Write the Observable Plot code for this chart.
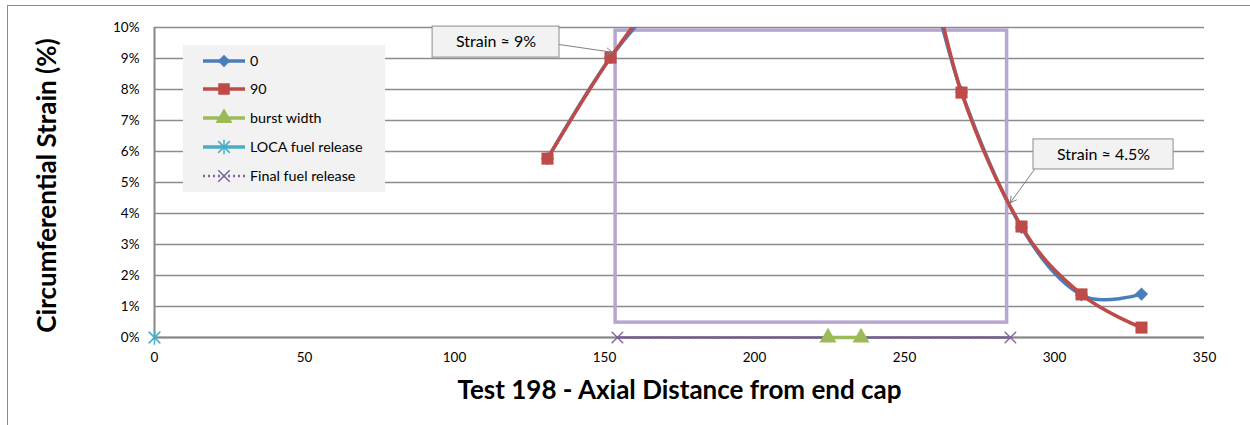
<!DOCTYPE html>
<html><head><meta charset="utf-8">
<script src="https://cdn.jsdelivr.net/npm/d3@7"></script>
<script src="https://cdn.jsdelivr.net/npm/@observablehq/plot@0.6"></script>
<style>
html,body{margin:0;padding:0;background:#fff;overflow:hidden;}
#wrap{position:relative;width:1250px;height:425px;font-family:Lato,"Open Sans",sans-serif;}
#border{position:absolute;left:7px;top:5px;width:1400px;height:700px;border:1px solid #8c8c8c;pointer-events:none;}
#legend{position:absolute;left:183px;top:45px;width:202px;height:147px;background:#f2f2f2;}
#legend .row{position:absolute;left:0;height:20px;font-size:14.3px;color:#000;width:202px;}
#legend svg{position:absolute;left:18px;top:0;}
#legend span{position:absolute;left:67px;top:0;white-space:nowrap;line-height:20px;}
</style></head>
<body><div id="wrap"><div id="border"></div></div>
<script>
// ---- data ----
const seriesNames = ["0", "90", "burst width", "LOCA fuel release", "Final fuel release"];
const axialPos = [131, 152, 172, 192, 212, 232, 251, 269, 289, 309, 329];
const strain0  = [5.77, 9.03, 11.2, 12.7, 13.6, 13.9, 13.6, 7.92, 3.55, 1.37, 1.4];
const strain90 = [5.77, 9.03, 11.5, 13.0, 14.0, 14.5, 14.2, 7.9, 3.58, 1.39, 0.32];
const burstPos = [224.5, 235.5];
const burstStrain = [0, 0];
const locaPos = [0];
const locaStrain = [0];
const finalPos = [154.3, 285.3];
const finalStrain = [0, 0];
const xTicks = [0, 50, 100, 150, 200, 250, 300, 350];
const yTicks = [0, 1, 2, 3, 4, 5, 6, 7, 8, 9, 10];
const xTitle = "Test 198 - Axial Distance from end cap";
const yTitle = "Circumferential Strain (%)";
// annotations (in data units)
const boxRegion = [{x1: 153.7, x2: 284.2, y1: 0.48, y2: 9.9}];
const callouts = [
  {label: "Strain ≈ 9%", x1: 92.7, x2: 135, y1: 9.03, y2: 10.03, ax1: 135, ay1: 9.45, ax2: 152.7, ay2: 9.2},
  {label: "Strain ≈ 4.5%", x1: 293, x2: 339.7, y1: 5.42, y2: 6.39, ax1: 293.3, ay1: 5.42, ax2: 285.3, ay2: 4.35}
];

const colors = {s0: "#4A7EBB", s90: "#BE4B48", burst: "#9BBB59", loca: "#4BACC6", fin: "#7E649E", box: "#B6A7CE"};

// Excel-like marker shapes
const diamondSym = {draw(ctx, size) { const r = Math.sqrt(size) / 2 * 1.18; ctx.moveTo(0, -r); ctx.lineTo(r, 0); ctx.lineTo(0, r); ctx.lineTo(-r, 0); ctx.closePath(); }};
const starSym = {draw(ctx, size) { const r = Math.sqrt(size) / 2 * 1.2; ctx.moveTo(-r, -r); ctx.lineTo(r, r); ctx.moveTo(r, -r); ctx.lineTo(-r, r); ctx.moveTo(0, -r * 1.25); ctx.lineTo(0, r * 1.25); }};
const timesSym = {draw(ctx, size) { const r = Math.sqrt(size) / 2; ctx.moveTo(-r, -r); ctx.lineTo(r, r); ctx.moveTo(r, -r); ctx.lineTo(-r, r); }};

const d0 = axialPos.map((x, i) => ({x, y: strain0[i]}));
const d90 = axialPos.map((x, i) => ({x, y: strain90[i]}));
const dBurst = burstPos.map((x, i) => ({x, y: burstStrain[i]}));
const dLoca = locaPos.map((x, i) => ({x, y: locaStrain[i]}));
const dFinal = finalPos.map((x, i) => ({x, y: finalStrain[i]}));

const chart = Plot.plot({
  width: 1250, height: 425,
  marginLeft: 154, marginRight: 46, marginTop: 27, marginBottom: 88,
  style: {fontFamily: "Lato, 'Open Sans', sans-serif", fontSize: "13.5px", background: "transparent", color: "#000"},
  x: {domain: [0, 350], ticks: xTicks, label: null},
  y: {domain: [0, 10], ticks: yTicks, label: null, tickFormat: d => d + "%"},
  marks: [
    Plot.gridY(yTicks, {stroke: "#8c8c8c", strokeOpacity: 1, strokeWidth: 1.3}),
    Plot.ruleX([0], {stroke: "#868686", strokeWidth: 2}),
    Plot.ruleY([0], {stroke: "#868686", strokeWidth: 2}),
    Plot.axisX({ticks: xTicks, tickSize: 0, tickPadding: 15, fontSize: 13.5, label: null}),
    Plot.axisY({ticks: yTicks, tickSize: 0, tickPadding: 15, fontSize: 13.5, label: null, tickFormat: d => d + "%"}),
    Plot.rect(boxRegion, {x1: "x1", x2: "x2", y1: "y1", y2: "y2", fill: "none", stroke: colors.box, strokeWidth: 3.5}),
    Plot.line(d0, {x: "x", y: "y", stroke: colors.s0, strokeWidth: 3.5, curve: "cardinal", tension: 0, clip: true}),
    Plot.dot(d0, {x: "x", y: "y", symbol: diamondSym, r: 6.3, fill: colors.s0, stroke: "none", clip: true}),
    Plot.line(d90, {x: "x", y: "y", stroke: colors.s90, strokeWidth: 3.5, curve: "cardinal", tension: 0, clip: true}),
    Plot.dot(d90, {x: "x", y: "y", symbol: "square", r: 6.8, fill: colors.s90, stroke: "none", clip: true}),
    Plot.line(dFinal, {x: "x", y: "y", stroke: "#2b2b3a", strokeWidth: 1.5}),
    Plot.line(dFinal, {x: "x", y: "y", stroke: colors.fin, strokeWidth: 2.5, strokeDasharray: "2,3"}),
    Plot.line(dBurst, {x: "x", y: "y", stroke: colors.burst, strokeWidth: 3.5}),
    Plot.dot(dBurst, {x: "x", y: "y", symbol: "triangle", r: 6.3, fill: colors.burst, stroke: "none"}),
    Plot.dot(dLoca, {x: "x", y: "y", symbol: starSym, r: 5.5, stroke: colors.loca, strokeWidth: 1.5}),
    Plot.dot(dFinal, {x: "x", y: "y", symbol: timesSym, r: 6.5, stroke: colors.fin, strokeWidth: 1.3}),
    Plot.rect(callouts, {x1: "x1", x2: "x2", y1: "y1", y2: "y2", fill: "#F2F2F2", stroke: "#8c8c8c", strokeWidth: 1}),
    Plot.text(callouts, {x: d => (d.x1 + d.x2) / 2, y: d => (d.y1 + d.y2) / 2, text: "label", fontSize: 16, fill: "#000"}),
    Plot.arrow(callouts, {x1: "ax1", y1: "ay1", x2: "ax2", y2: "ay2", stroke: "#808080", strokeWidth: 1, headLength: 10}),
    Plot.text([xTitle], {frameAnchor: "bottom", dy: 53, fontSize: 26, fontWeight: "bold", textAnchor: "middle", lineAnchor: "middle", fill: "#000"}),
    Plot.text([yTitle], {frameAnchor: "left", dx: -107, dy: 3, rotate: -90, fontSize: 26, fontWeight: "bold", textAnchor: "middle", lineAnchor: "middle", fill: "#000"})
  ]
});
const wrap = document.getElementById("wrap");
wrap.insertBefore(chart, wrap.firstChild);

// legend
const legend = document.createElement("div");
legend.id = "legend";
const legendItems = [
  {name: seriesNames[0], color: colors.s0, symbol: diamondSym, size: Math.PI * 6 * 6, fill: true},
  {name: seriesNames[1], color: colors.s90, symbol: d3.symbolSquare, size: Math.PI * 6.5 * 6.5, fill: true},
  {name: seriesNames[2], color: colors.burst, symbol: d3.symbolTriangle, size: Math.PI * 40, fill: true},
  {name: seriesNames[3], color: colors.loca, symbol: starSym, size: Math.PI * 5.5 * 5.5, fill: false},
  {name: seriesNames[4], color: colors.fin, symbol: timesSym, size: Math.PI * 6.5 * 6.5, fill: false, dotted: true}
];
const rowCenters = [16, 44, 73, 102, 131];
legendItems.forEach((it, i) => {
  const row = document.createElement("div");
  row.className = "row";
  row.style.top = (rowCenters[i] - 10) + "px";
  const ns = "http://www.w3.org/2000/svg";
  const svg = document.createElementNS(ns, "svg");
  svg.setAttribute("width", 46); svg.setAttribute("height", 20);
  const line = document.createElementNS(ns, "line");
  line.setAttribute("x1", 2); line.setAttribute("x2", 44); line.setAttribute("y1", 10); line.setAttribute("y2", 10);
  line.setAttribute("stroke", it.color);
  line.setAttribute("stroke-width", it.dotted ? 2.5 : 3.5);
  if (it.dotted) line.setAttribute("stroke-dasharray", "2,3");
  svg.appendChild(line);
  const p = document.createElementNS(ns, "path");
  p.setAttribute("d", d3.symbol(it.symbol, it.size)());
  p.setAttribute("transform", "translate(23,10)");
  if (it.fill) { p.setAttribute("fill", it.color); }
  else { p.setAttribute("fill", "none"); p.setAttribute("stroke", it.color); p.setAttribute("stroke-width", 1.5); }
  svg.appendChild(p);
  row.appendChild(svg);
  const span = document.createElement("span");
  span.textContent = it.name;
  row.appendChild(span);
  legend.appendChild(row);
});
wrap.appendChild(legend);
</script>
</body></html>
